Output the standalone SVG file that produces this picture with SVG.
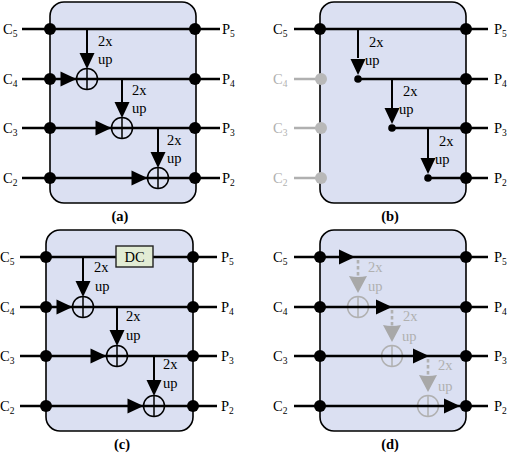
<svg xmlns="http://www.w3.org/2000/svg" width="510" height="456" viewBox="0 0 510 456" font-family="'Liberation Serif','DejaVu Serif',serif">
<style>
.box{fill:#dbe0f2;stroke:#000;stroke-width:1.6}
.ln{stroke:#000;stroke-width:2.6;fill:none}
.vl{stroke:#000;stroke-width:2;fill:none}
.gl{stroke:#b0b0b0;stroke-width:2.6;fill:none}
.gd{stroke:#b0b0b0;stroke-width:2.6;fill:none;stroke-dasharray:3.5 2.5}
.dot{fill:#000}
.gdot{fill:#b8b8b8}
.sum{fill:none;stroke:#000;stroke-width:1.5}
.gsum{fill:none;stroke:#b0b0b0;stroke-width:1.5}
.ah{fill:#000}
.gah{fill:#a8a8a8}
.t{font-family:'Liberation Serif','DejaVu Serif',serif;font-size:14.5px;fill:#000}
.sub{font-size:9.5px}
.g{fill:#b0b0b0}
.cap{font-weight:bold;text-anchor:middle}
.dc{fill:#e2ecd4;stroke:#222;stroke-width:1.4}
</style>
<defs>
<path id="ahR" d="M0,0 L-16,-7.5 L-16,7.5 Z"/>
<path id="ahD" d="M0,0 L-7.5,-16 L7.5,-16 Z"/>
<path id="gahD" d="M0,0 L-9,-17 Q0,-15 9,-17 Z"/>
<g id="sumS"><circle r="10.5"/><path d="M-10.5,0H10.5M0,-10.5V10.5"/></g>
</defs>

<!-- Panel (a) -->
<g id="panel-a">
<rect class="box" x="50" y="2" width="146" height="201" rx="14"/>
<g id="a-connectors">
<path class="ln" d="M22,29H220M22,79H220M22,128H220M22,178H220"/>
<path class="vl" d="M87,29V55M122,79V104M158,128V154"/>
<use href="#ahD" class="ah" x="87" y="69"/>
<use href="#ahD" class="ah" x="122" y="118"/>
<use href="#ahD" class="ah" x="158" y="168"/>
<use href="#ahR" class="ah" x="76.5" y="79"/>
<use href="#ahR" class="ah" x="111.5" y="128"/>
<use href="#ahR" class="ah" x="147.5" y="178"/>
</g>
<g id="a-nodes">
<circle class="dot" cx="50" cy="29" r="6"/><circle class="dot" cx="50" cy="79" r="6"/><circle class="dot" cx="50" cy="128" r="6"/><circle class="dot" cx="50" cy="178" r="6"/>
<circle class="dot" cx="195" cy="29" r="6"/><circle class="dot" cx="195" cy="79" r="6"/><circle class="dot" cx="195" cy="128" r="6"/><circle class="dot" cx="195" cy="178" r="6"/>
<g id="a-sum1" class="sum"><use href="#sumS" x="87" y="79"/></g>
<g id="a-sum2" class="sum"><use href="#sumS" x="122" y="128"/></g>
<g id="a-sum3" class="sum"><use href="#sumS" x="158" y="178"/></g>
</g>
<g id="a-labels" class="t">
<text x="3" y="34">C<tspan class="sub" dy="3">5</tspan></text>
<text x="3" y="84">C<tspan class="sub" dy="3">4</tspan></text>
<text x="3" y="133">C<tspan class="sub" dy="3">3</tspan></text>
<text x="3" y="183">C<tspan class="sub" dy="3">2</tspan></text>
<text x="222" y="34">P<tspan class="sub" dy="3">5</tspan></text>
<text x="222" y="84">P<tspan class="sub" dy="3">4</tspan></text>
<text x="222" y="133">P<tspan class="sub" dy="3">3</tspan></text>
<text x="222" y="183">P<tspan class="sub" dy="3">2</tspan></text>
<text x="98" y="46">2x</text><text x="98" y="64">up</text>
<text x="132" y="95">2x</text><text x="132" y="113">up</text>
<text x="167" y="145">2x</text><text x="167" y="163">up</text>
<text class="cap" x="120" y="221">(a)</text>
</g>
</g>

<!-- Panel (b) -->
<g id="panel-b">
<rect class="box" x="320" y="2" width="146" height="201" rx="14"/>
<g id="b-connectors">
<path class="ln" d="M294,29H488M358,79H488M392,128H488M428,178H488"/>
<path class="gl" d="M294,79H320M294,128H320M294,178H320"/>
<path class="vl" d="M358,29V58M392,79V108M428,128V158"/>
<use href="#ahD" class="ah" x="358" y="75"/>
<use href="#ahD" class="ah" x="392" y="124"/>
<use href="#ahD" class="ah" x="428" y="174"/>
</g>
<g id="b-nodes">
<circle class="dot" cx="320" cy="29" r="6"/>
<circle class="gdot" cx="321" cy="79" r="6"/><circle class="gdot" cx="321" cy="128" r="6"/><circle class="gdot" cx="321" cy="178" r="6"/>
<circle class="dot" cx="466" cy="29" r="6"/><circle class="dot" cx="466" cy="79" r="6"/><circle class="dot" cx="466" cy="128" r="6"/><circle class="dot" cx="466" cy="178" r="6"/>
<circle class="dot" cx="358" cy="79" r="3.8"/><circle class="dot" cx="392" cy="128" r="3.8"/><circle class="dot" cx="428" cy="178" r="3.8"/>
</g>
<g id="b-labels" class="t">
<text x="273" y="34">C<tspan class="sub" dy="3">5</tspan></text>
<text class="g" x="273" y="84">C<tspan class="sub" dy="3">4</tspan></text>
<text class="g" x="273" y="133">C<tspan class="sub" dy="3">3</tspan></text>
<text class="g" x="273" y="183">C<tspan class="sub" dy="3">2</tspan></text>
<text x="494" y="34">P<tspan class="sub" dy="3">5</tspan></text>
<text x="494" y="84">P<tspan class="sub" dy="3">4</tspan></text>
<text x="494" y="133">P<tspan class="sub" dy="3">3</tspan></text>
<text x="494" y="183">P<tspan class="sub" dy="3">2</tspan></text>
<text x="369" y="47">2x</text><text x="365" y="65">up</text>
<text x="403" y="96">2x</text><text x="399" y="114">up</text>
<text x="439" y="146">2x</text><text x="435" y="164">up</text>
<text class="cap" x="390" y="221">(b)</text>
</g>
</g>

<!-- Panel (c) -->
<g id="panel-c">
<rect class="box" x="46" y="230" width="147" height="201" rx="14"/>
<g id="c-connectors">
<path class="ln" d="M20,257H116M153,257H217M20,307H217M20,356H217M20,406H217"/>
<path class="vl" d="M83,257V283M117,307V332M154,356V382"/>
<use href="#ahD" class="ah" x="83" y="297"/>
<use href="#ahD" class="ah" x="117" y="346"/>
<use href="#ahD" class="ah" x="154" y="396"/>
<use href="#ahR" class="ah" x="72.5" y="307"/>
<use href="#ahR" class="ah" x="106.5" y="356"/>
<use href="#ahR" class="ah" x="143.5" y="406"/>
</g>
<g id="c-nodes">
<circle class="dot" cx="46" cy="257" r="6"/><circle class="dot" cx="46" cy="307" r="6"/><circle class="dot" cx="46" cy="356" r="6"/><circle class="dot" cx="46" cy="406" r="6"/>
<circle class="dot" cx="193" cy="257" r="6"/><circle class="dot" cx="193" cy="307" r="6"/><circle class="dot" cx="193" cy="356" r="6"/><circle class="dot" cx="193" cy="406" r="6"/>
<g id="c-dc"><rect class="dc" x="116" y="246" width="37" height="21"/><text class="t" x="134.5" y="262" text-anchor="middle">DC</text></g>
<g id="c-sum1" class="sum"><use href="#sumS" x="83" y="307"/></g>
<g id="c-sum2" class="sum"><use href="#sumS" x="117" y="356"/></g>
<g id="c-sum3" class="sum"><use href="#sumS" x="154" y="406"/></g>
</g>
<g id="c-labels" class="t">
<text x="0" y="262">C<tspan class="sub" dy="3">5</tspan></text>
<text x="0" y="312">C<tspan class="sub" dy="3">4</tspan></text>
<text x="0" y="361">C<tspan class="sub" dy="3">3</tspan></text>
<text x="0" y="411">C<tspan class="sub" dy="3">2</tspan></text>
<text x="221" y="262">P<tspan class="sub" dy="3">5</tspan></text>
<text x="221" y="312">P<tspan class="sub" dy="3">4</tspan></text>
<text x="221" y="361">P<tspan class="sub" dy="3">3</tspan></text>
<text x="221" y="411">P<tspan class="sub" dy="3">2</tspan></text>
<text x="94" y="272">2x</text><text x="95" y="291">up</text>
<text x="126" y="321">2x</text><text x="126" y="340">up</text>
<text x="163" y="369">2x</text><text x="163" y="388">up</text>
<text class="cap" x="122" y="449">(c)</text>
</g>
</g>

<!-- Panel (d) -->
<g id="panel-d">
<rect class="box" x="320" y="230" width="146" height="201" rx="14"/>
<g id="d-connectors">
<path class="gd" d="M358,260V276M392,310V326M428,359V375"/>
<use href="#gahD" class="gah" x="358" y="293"/>
<use href="#gahD" class="gah" x="392" y="342"/>
<use href="#gahD" class="gah" x="428" y="392"/>
</g>
<g id="d-nodes-gray">
<g id="d-sum1" class="gsum"><use href="#sumS" x="358" y="307"/></g>
<g id="d-sum2" class="gsum"><use href="#sumS" x="392" y="356"/></g>
<g id="d-sum3" class="gsum"><use href="#sumS" x="428" y="406"/></g>
</g>
<g id="d-lines">
<path class="ln" d="M294,257H488M294,307H488M294,356H488M294,406H488"/>
<use href="#ahR" class="ah" x="355" y="257"/>
<use href="#ahR" class="ah" x="392" y="307"/>
<use href="#ahR" class="ah" x="429" y="356"/>
<use href="#ahR" class="ah" x="460" y="406"/>
</g>
<g id="d-nodes">
<circle class="dot" cx="320" cy="257" r="6"/><circle class="dot" cx="320" cy="307" r="6"/><circle class="dot" cx="320" cy="356" r="6"/><circle class="dot" cx="320" cy="406" r="6"/>
<circle class="dot" cx="466" cy="257" r="6"/><circle class="dot" cx="466" cy="307" r="6"/><circle class="dot" cx="466" cy="356" r="6"/><circle class="dot" cx="466" cy="406" r="6"/>
</g>
<g id="d-labels" class="t">
<text x="273" y="262">C<tspan class="sub" dy="3">5</tspan></text>
<text x="273" y="312">C<tspan class="sub" dy="3">4</tspan></text>
<text x="273" y="361">C<tspan class="sub" dy="3">3</tspan></text>
<text x="273" y="411">C<tspan class="sub" dy="3">2</tspan></text>
<text x="494" y="262">P<tspan class="sub" dy="3">5</tspan></text>
<text x="494" y="312">P<tspan class="sub" dy="3">4</tspan></text>
<text x="494" y="361">P<tspan class="sub" dy="3">3</tspan></text>
<text x="494" y="411">P<tspan class="sub" dy="3">2</tspan></text>
<text class="g" x="368" y="272">2x</text><text class="g" x="368" y="291">up</text>
<text class="g" x="403" y="321">2x</text><text class="g" x="402" y="341">up</text>
<text class="g" x="438" y="370">2x</text><text class="g" x="438" y="391">up</text>
<text class="cap" x="390" y="449">(d)</text>
</g>
</g>
</svg>
